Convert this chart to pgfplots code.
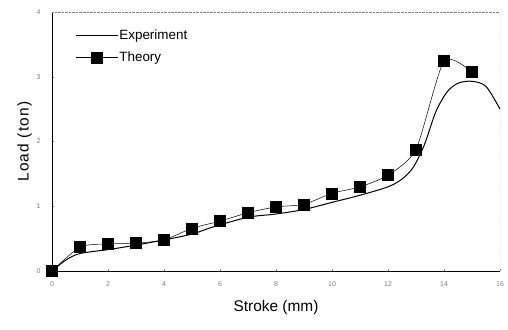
\documentclass[border=0pt]{standalone}
\usepackage{fontspec}
\setmainfont{Liberation Sans}
\usepackage{pgfplots}
\pgfplotsset{compat=1.18}
\usetikzlibrary{calc}
\begin{document}
\begin{tikzpicture}
\begin{axis}[
  scale only axis,
  width=448bp, height=259bp,
  xmin=0, xmax=16, ymin=0, ymax=4,
  xtick={0,2,...,16}, ytick={0,1,2,3,4},
  axis x line*=bottom, axis y line*=left,
  tick align=inside, major tick length=2bp,
  tick style={gray},
  ticklabel style={font=\fontsize{7}{8}\selectfont, text=gray},
  /pgf/number format/assume math mode=true,
  xticklabel style={yshift=-7bp},
  yticklabel style={xshift=-8bp},
  xlabel={Stroke (mm)}, ylabel={\addfontfeatures{LetterSpace=8}Load (ton)},
  label style={font=\fontsize{15.5}{17}\selectfont},
  xlabel style={yshift=-7bp},
  ylabel style={yshift=-2bp},
  legend style={draw=none, fill=none, at={(rel axis cs:0.045,0.945)}, anchor=north west,
     font=\fontsize{13.5}{15}\selectfont, row sep=9bp,
     nodes={inner sep=1bp}},
  legend cell align=left,
  legend image code/.code={\draw[mark repeat=2,mark phase=2,#1] plot coordinates {(0bp,0bp) (21bp,0bp) (42bp,0bp)};},
]
\addplot[black, line width=1pt, smooth, tension=0.5] coordinates {
(0,0) (0.5,0.17) (1,0.27) (2,0.33) (3,0.4) (4,0.48) (5,0.57) (5.75,0.68)
(7,0.83) (8,0.88) (9,0.95) (10,1.06) (11,1.17) (12,1.3) (12.5,1.42)
(12.9,1.6) (13.3,1.95) (13.7,2.45) (14.1,2.76) (14.5,2.9) (15,2.93) (15.5,2.85) (16,2.5)};
\addlegendentry{Experiment}
\addplot[black, line width=0.5pt, smooth, tension=0.4, mark=square*, mark size=5.5bp, mark options={solid, fill=black}] coordinates {
(0,0) (1,0.37) (2,0.42) (3,0.43) (4,0.48) (5,0.66) (6,0.77) (7,0.9) (8,0.99)
(9,1.03) (10,1.2) (11,1.3) (12,1.48) (13,1.88) (14,3.24) (15,3.07)};
\addlegendentry{Theory}
\draw[gray, densely dotted] (rel axis cs:0,1) -- (rel axis cs:1,1) -- (rel axis cs:1,0);
\end{axis}
\pgfresetboundingbox
\useasboundingbox ($(current axis.south west)+(-52bp,-59bp)$) rectangle ($(current axis.north east)+(8bp,12bp)$);
\end{tikzpicture}
\end{document}
